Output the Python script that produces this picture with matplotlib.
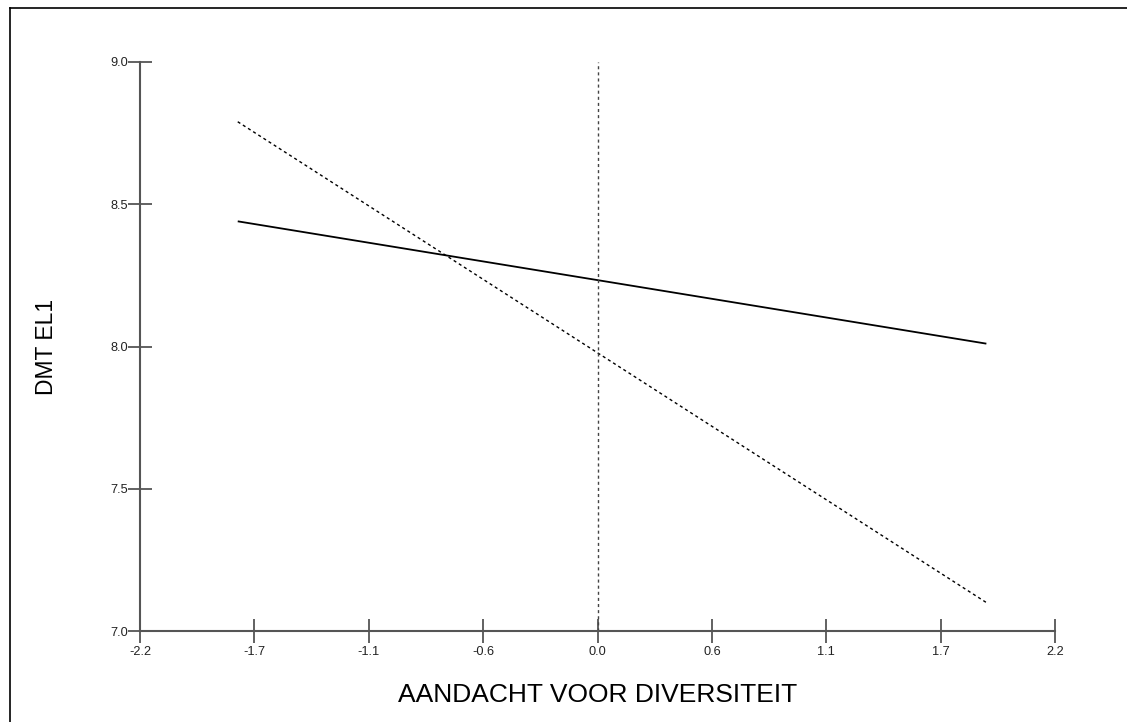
import numpy as np
import matplotlib
matplotlib.use('Agg')
import matplotlib.pyplot as plt
from matplotlib.lines import Line2D

plt.rcParams['font.family'] = ['Liberation Sans', 'DejaVu Sans']

# Data
x_range = [-1.73, 1.87]
solid_y = [8.44, 8.01]
dashed_y = [8.79, 7.10]
x_ticks = [-2.2, -1.65, -1.1, -0.55, 0.0, 0.55, 1.1, 1.65, 2.2]
x_tick_labels = ['-2.2', '-1.7', '-1.1', '-0.6', '0.0', '0.6', '1.1', '1.7', '2.2']
y_ticks = [7.0, 7.5, 8.0, 8.5, 9.0]
y_tick_labels = ['7.0', '7.5', '8.0', '8.5', '9.0']
ref_x = 0.0

fig = plt.figure(figsize=(11.27, 7.22), dpi=100)
ax = fig.add_axes([140 / 1127, 91 / 722, 915 / 1127, 569 / 722])

ax.plot(x_range, solid_y, color='black', lw=1.3, solid_capstyle='butt')
ax.plot(x_range, dashed_y, color='black', lw=1.0, linestyle=(0, (2.2, 2.2)))
ax.plot([ref_x, ref_x], [y_ticks[0], y_ticks[-1]], color='#444444', lw=1.0,
        linestyle=(0, (2.2, 2.2)))

ax.set_xlim(x_ticks[0], x_ticks[-1])
ax.set_ylim(y_ticks[0], y_ticks[-1])
ax.set_xticks(x_ticks)
ax.set_xticklabels(x_tick_labels)
ax.set_yticks(y_ticks)
ax.set_yticklabels(y_tick_labels)

for s in ['top', 'right']:
    ax.spines[s].set_visible(False)
for s in ['left', 'bottom']:
    ax.spines[s].set_color('#555555')
    ax.spines[s].set_linewidth(1.5)

ax.tick_params(axis='both', direction='inout', length=17, width=1.3,
               color='#555555', labelsize=9.2, labelcolor='#222222')
ax.tick_params(axis='y', pad=0)
ax.tick_params(axis='x', pad=2)

ax.set_xlabel('AANDACHT VOOR DIVERSITEIT', fontsize=19, labelpad=18)
ax.set_ylabel('DMT EL1', fontsize=16.5, labelpad=38)

# frame lines at the left and top of the figure
fig.add_artist(Line2D([10 / 1127, 10 / 1127], [0, 1 - 8 / 722],
                      transform=fig.transFigure, color='black', lw=1.2))
fig.add_artist(Line2D([10 / 1127, 1], [1 - 8 / 722, 1 - 8 / 722],
                      transform=fig.transFigure, color='black', lw=1.2))

fig.savefig('out.png', dpi=100)
